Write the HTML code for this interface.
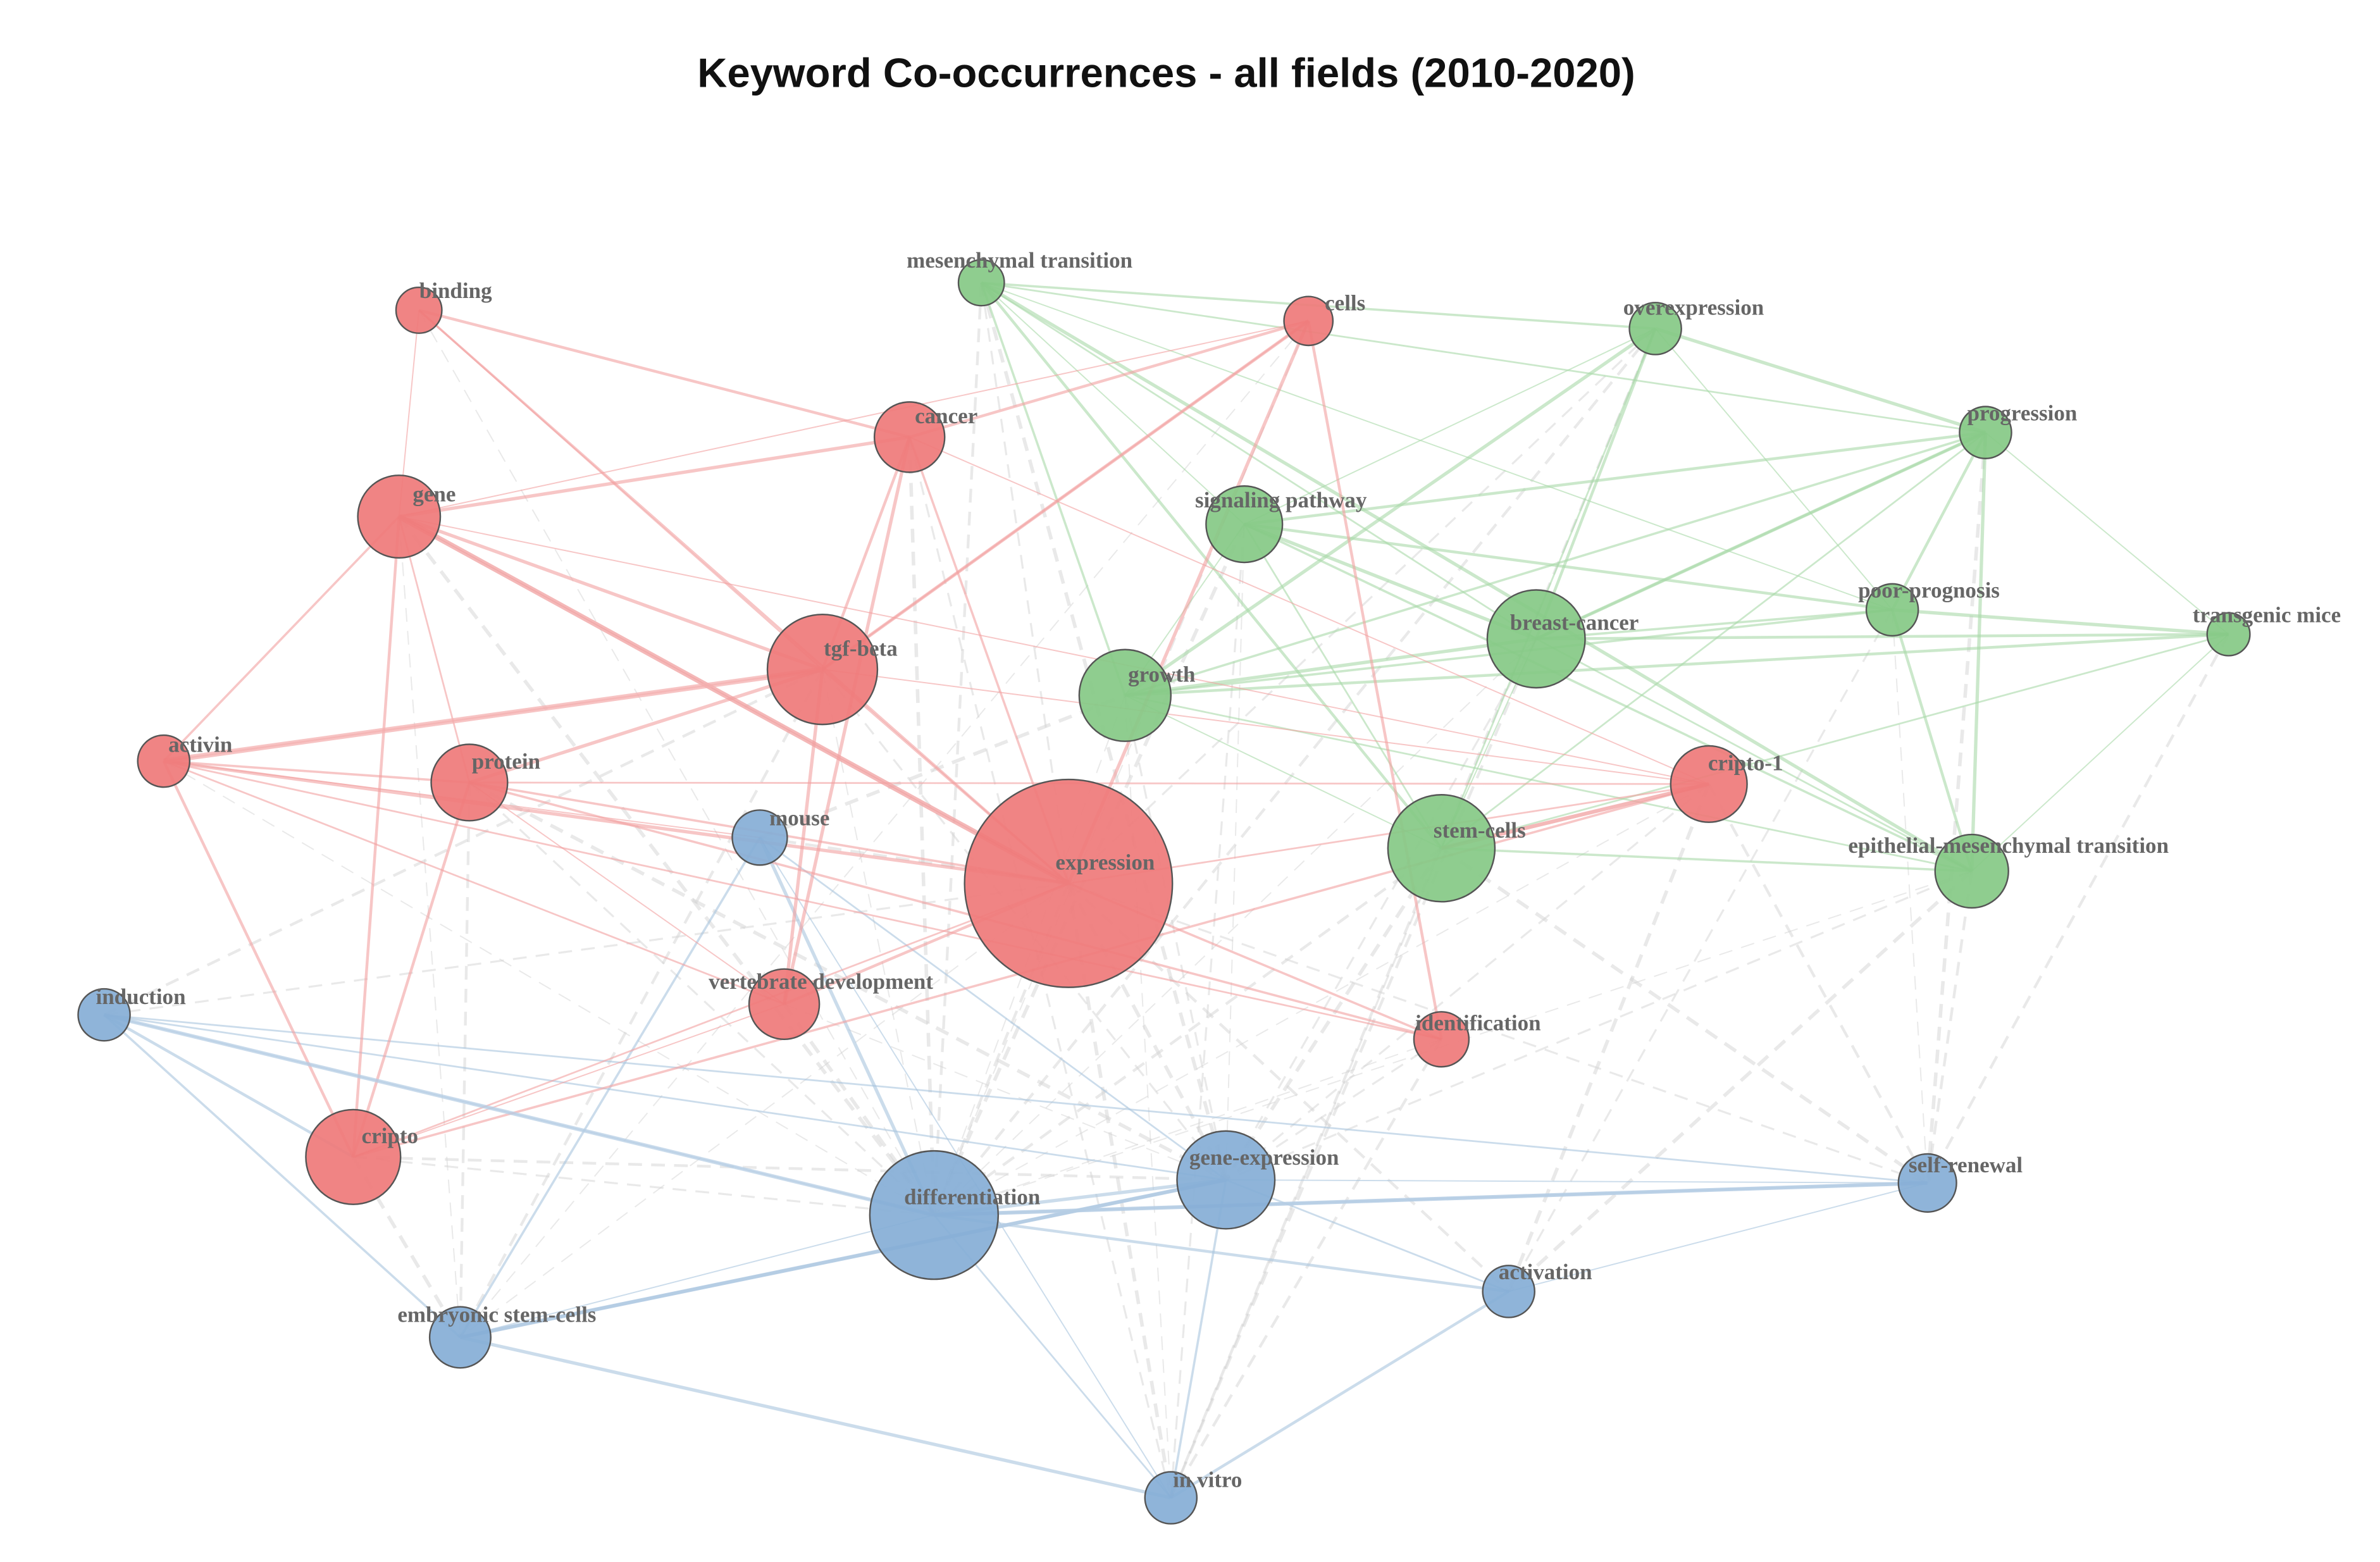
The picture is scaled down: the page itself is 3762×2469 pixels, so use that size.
<!DOCTYPE html>
<html><head><meta charset="utf-8"><style>
html,body{margin:0;padding:0;background:#fff;}
svg{display:block}
text.l{font-family:"Liberation Serif",serif;font-weight:bold;font-size:14.5px;fill:#666;text-anchor:middle}
</style></head><body>
<svg id="s" width="3762" height="2469" viewBox="0 0 1557 1022" xmlns="http://www.w3.org/2000/svg">
<rect width="1557" height="1022" fill="#fff"/>
<text x="763" y="57" font-family="Liberation Sans,sans-serif" font-weight="bold" font-size="27" text-anchor="middle" fill="#111">Keyword Co-occurrences - all fields (2010-2020)</text>
<g id="e"></g><g id="n"></g>
</svg>
<script>
var N={
binding:[274,203,15,'r',298,190,'binding'],
mt:[642,185,15,'g',667,170,'mesenchymal transition'],
cells:[856,210,16,'r',880,198,'cells'],
over:[1083,215,17,'g',1108,201,'overexpression'],
cancer:[595,286,23,'r',619,272,'cancer'],
gene:[261,338,27,'r',284,323,'gene'],
prog:[1299,283,17,'g',1323,270,'progression'],
sig:[814,343,25,'g',838,327,'signaling pathway'],
poor:[1238,399,17,'g',1262,386,'poor-prognosis'],
trans:[1458,415,14,'g',1483,402,'transgenic mice'],
bc:[1005,418,32,'g',1030,407,'breast-cancer'],
tgf:[538,438,36,'r',563,424,'tgf-beta'],
growth:[736,455,30,'g',760,441,'growth'],
activin:[107,498,17,'r',131,487,'activin'],
protein:[307,512,25,'r',331,498,'protein'],
c1:[1118,513,25,'r',1142,499,'cripto-1'],
mouse:[497,548,18,'b',523,535,'mouse'],
expr:[699,578,68,'r',723,564,'expression'],
stem:[943,555,35,'g',968,543,'stem-cells'],
emt:[1290,570,24,'g',1314,553,'epithelial-mesenchymal transition'],
ind:[68,664,17,'b',92,652,'induction'],
vd:[513,657,23,'r',537,642,'vertebrate development'],
ident:[943,680,18,'r',967,669,'identification'],
cripto:[231,757,31,'r',255,743,'cripto'],
ge:[802,772,32,'b',827,757,'gene-expression'],
diff:[611,795,42,'b',636,783,'differentiation'],
sr:[1261,774,19,'b',1286,762,'self-renewal'],
act:[987,845,17,'b',1011,832,'activation'],
esc:[301,875,20,'b',325,860,'embryonic stem-cells'],
iv:[766,980,17,'b',790,968,'in vitro']};
var C={r:['#ee7777','#f2a0a0'],g:['#7cc47c','#a8d8a8'],b:['#7ba3cc','#a9c4de']};
var FILL={r:'#ef7a7a',g:'#86c986',b:'#86aed6'};
var red=['binding gene','binding tgf','binding expr','binding cancer','gene tgf','gene expr','gene protein','gene activin','gene cripto','gene cancer','gene cells','activin tgf','activin protein','activin cripto','activin expr','activin mouse','activin vd','protein expr','protein cripto','protein tgf','protein vd','protein c1','tgf expr','tgf cancer','tgf vd','tgf c1','tgf cells','cancer expr','cancer cells','cancer vd','cancer c1','expr c1','expr ident','expr vd','expr cells','vd cripto','cripto expr','cripto c1','cells ident','cells tgf','gene c1','activin ident','protein ident'];
var green=['mt sig','mt bc','mt growth','mt stem','mt emt','mt poor','mt prog','mt over','over bc','over prog','over poor','over stem','prog bc','prog poor','prog emt','prog trans','prog stem','prog growth','prog sig','sig bc','sig growth','sig stem','sig emt','sig poor','bc growth','bc stem','bc emt','bc poor','bc trans','bc prog','growth stem','growth emt','growth poor','poor emt','poor trans','trans emt','trans stem','stem emt','growth trans','over growth','over sig'];
var blue=['ind diff','ind ge','ind esc','ind cripto','diff ge','diff esc','diff iv','diff sr','diff act','diff mouse','ge sr','ge act','ge iv','ge esc','esc iv','sr act','mouse ge','mouse esc','act iv','esc ge','mouse iv','ind sr'];
var gray=['binding diff','mt expr','mt diff','mt ge','cells diff','over expr','over diff','cancer diff','growth diff','growth ge','stem diff','stem ge','bc diff','bc ge','expr diff','expr ge','expr esc','expr sr','expr act','expr iv','tgf diff','tgf ge','tgf esc','gene diff','gene esc','protein diff','protein esc','protein ge','c1 diff','c1 ge','c1 sr','c1 act','emt diff','emt ge','emt sr','emt act','poor sr','poor act','trans sr','prog sr','ident diff','ident ge','ident iv','vd diff','vd ge','cripto diff','cripto ge','cripto esc','activin diff','ind expr','ind tgf','sig diff','sig ge','stem iv','bc iv','stem sr','growth iv','sig iv','mouse expr','mouse growth','cells esc','cancer iv','over iv'];
var E=document.getElementById('e'),NG=document.getElementById('n'),ns='http://www.w3.org/2000/svg';
function line(a,b,col,w,op,dash){var A=N[a],B=N[b];if(!A||!B)return;var l=document.createElementNS(ns,'line');
l.setAttribute('x1',A[0]);l.setAttribute('y1',A[1]);l.setAttribute('x2',B[0]);l.setAttribute('y2',B[1]);
l.setAttribute('stroke',col);l.setAttribute('stroke-width',w);l.setAttribute('stroke-opacity',op);if(dash)l.setAttribute('stroke-dasharray',dash);E.appendChild(l);}
gray.forEach(function(s,i){var p=s.split(' ');line(p[0],p[1],'#d4d4d4',0.8+(i%4)*0.5,0.5,'9,6');});
function grp(arr,k){arr.forEach(function(s,i){var p=s.split(' ');line(p[0],p[1],C[k][1],0.8+(i%5)*0.35,0.6);});}
grp(green,'g');grp(blue,'b');grp(red,'r');
line('gene','expr','#f0a0a0',3.5,0.75);line('tgf','activin','#f4b0b0',3.5,0.75);line('diff','sr','#b5cde4',2.5,0.85);line('esc','ge','#b5cde4',2.5,0.85);line('ind','diff','#b5cde4',2.5,0.75);line('stem','c1','#f0a0a0',2.5,0.75);
for(var k in N){var d=N[k];var c=document.createElementNS(ns,'circle');c.setAttribute('cx',d[0]);c.setAttribute('cy',d[1]);c.setAttribute('r',d[2]);
c.setAttribute('fill',FILL[d[3]]);c.setAttribute('fill-opacity','0.92');c.setAttribute('stroke','#555');c.setAttribute('stroke-width','1');NG.appendChild(c);}
for(var k in N){var d=N[k];var t=document.createElementNS(ns,'text');t.setAttribute('x',d[4]);t.setAttribute('y',d[5]+5);t.setAttribute('class','l');t.textContent=d[6];NG.appendChild(t);}
</script>
</body></html>
